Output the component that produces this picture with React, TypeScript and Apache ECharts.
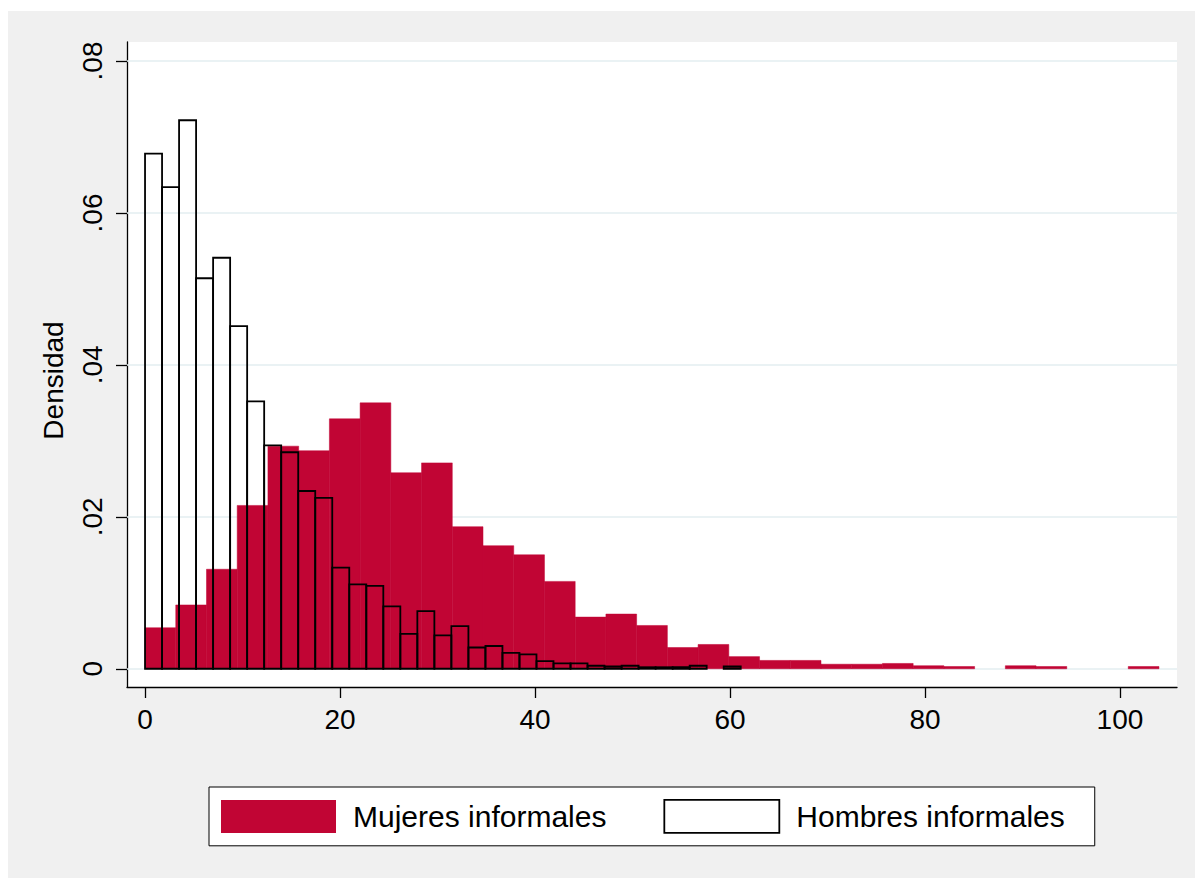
import React, { useEffect, useRef } from 'react';
import * as echarts from 'echarts';

// ---- data ----
const seriesNames = ['Mujeres informales', 'Hombres informales'];

const mujeresBinStart = 0;
const mujeresBinWidth = 104 / 33;
const mujeresDensity = [
  0.0054, 0.0084, 0.0131, 0.0215, 0.0293, 0.0287, 0.0329, 0.0350, 0.0258, 0.0271,
  0.0187, 0.0162, 0.0150, 0.0115, 0.0068, 0.0072, 0.0057, 0.0028, 0.0032, 0.0016,
  0.0011, 0.0011, 0.0006, 0.0006, 0.0007, 0.0004, 0.0003, 0, 0.0004, 0.0003,
  0, 0, 0.0003,
];

const hombresBinStart = 0;
const hombresBinWidth = 61.1 / 35;
const hombresDensity = [
  0.0678, 0.0634, 0.0722, 0.0514, 0.0541, 0.0451, 0.0352, 0.0294, 0.0285, 0.0234,
  0.0225, 0.0133, 0.0111, 0.0109, 0.0082, 0.0046, 0.0076, 0.0044, 0.0056, 0.0028,
  0.0030, 0.0021, 0.0019, 0.0010, 0.0007, 0.0007, 0.0004, 0.0003, 0.0004, 0.0002,
  0.0002, 0.0002, 0.0004, 0, 0.0003,
];

const xTicks = [0, 20, 40, 60, 80, 100];
const yTicks = [0, 0.02, 0.04, 0.06, 0.08];
const yTickLabels = ['0', '.02', '.04', '.06', '.08'];
const yTitle = 'Densidad';

const RED = '#c10534';
const FONT = 'Liberation Sans, Arial, sans-serif';

function toBins(start: number, width: number, dens: number[]) {
  return dens.map((d, i) => [start + i * width, start + (i + 1) * width, d]);
}

export default function App() {
  const ref = useRef<HTMLDivElement>(null);

  useEffect(() => {
    if (!ref.current) return;
    const chart = echarts.init(ref.current, undefined, { renderer: 'svg' });

    const makeRender = (fill: string, stroke: string | null, lw: number) =>
      (params: any, api: any) => {
        const x0 = api.value(0);
        const x1 = api.value(1);
        const h = api.value(2);
        if (!h) return null;
        const p0 = api.coord([x0, h]);
        const p1 = api.coord([x1, 0]);
        return {
          type: 'rect',
          shape: { x: p0[0], y: p0[1], width: p1[0] - p0[0], height: p1[1] - p0[1] },
          style: stroke
            ? { fill, stroke, lineWidth: lw }
            : { fill, stroke: fill, lineWidth: 0.5 },
        };
      };

    chart.setOption({
      animation: false,
      backgroundColor: '#f0f0f0',
      grid: {
        left: 119,
        top: 31,
        right: 18,
        bottom: 191,
        show: true,
        backgroundColor: '#ffffff',
        borderWidth: 0,
      },
      xAxis: {
        type: 'value',
        min: -1.85,
        max: 105.85,
        splitLine: { show: false },
        axisLine: { show: true, onZero: false, lineStyle: { color: '#000', width: 1.3 } },
        axisTick: {
          show: true,
          length: 11,
          inside: false,
          customValues: xTicks,
          lineStyle: { color: '#000', width: 1.3 },
        },
        axisLabel: {
          customValues: xTicks,
          color: '#000',
          fontSize: 28,
          fontFamily: FONT,
          margin: 18,
          formatter: (v: number) => String(v),
        },
      },
      yAxis: {
        type: 'value',
        min: -0.0024,
        max: 0.0825,
        name: yTitle,
        nameLocation: 'middle',
        nameRotate: 90,
        nameGap: 60,
        nameTextStyle: {
          color: '#000',
          fontSize: 28,
          fontFamily: FONT,
          padding: [0, 32, 0, 0],
        },
        splitLine: { show: false },
        axisLine: { show: true, onZero: false, lineStyle: { color: '#000', width: 1.3 } },
        axisTick: {
          show: true,
          length: 11,
          inside: false,
          customValues: yTicks,
          lineStyle: { color: '#000', width: 1.3 },
        },
        axisLabel: {
          customValues: yTicks,
          rotate: 90,
          color: '#000',
          fontSize: 28,
          fontFamily: FONT,
          margin: 21,
          formatter: (v: number) => {
            const i = yTicks.findIndex((t) => Math.abs(t - v) < 1e-9);
            return i >= 0 ? yTickLabels[i] : '';
          },
        },
      },
      legend: {
        left: 201,
        top: 776,
        orient: 'horizontal',
        padding: [12, 30, 12, 12],
        backgroundColor: '#ffffff',
        borderColor: '#000',
        borderWidth: 1,
        borderRadius: 0,
        itemWidth: 115,
        itemHeight: 33,
        itemGap: 57,
        selectedMode: false,
        textStyle: {
          color: '#000',
          fontSize: 30,
          fontFamily: FONT,
          padding: [0, 0, 0, 12],
        },
        data: [
          { name: seriesNames[0], icon: 'rect', itemStyle: { color: RED, borderWidth: 0 } },
          {
            name: seriesNames[1],
            icon: 'rect',
            itemStyle: { color: '#ffffff', borderColor: '#000', borderWidth: 1.8 },
          },
        ],
      },
      series: [
        {
          name: seriesNames[0],
          type: 'custom',
          z: 2,
          itemStyle: { color: RED },
          encode: { x: [0, 1], y: 2 },
          renderItem: makeRender(RED, null, 0),
          data: toBins(mujeresBinStart, mujeresBinWidth, mujeresDensity),
          markLine: {
            silent: true,
            z: 1,
            symbol: 'none',
            animation: false,
            label: { show: false },
            lineStyle: { color: '#e3eef1', width: 1.5, type: 'solid' },
            data: yTicks.map((v) => ({ yAxis: v })),
          },
        },
        {
          name: seriesNames[1],
          type: 'custom',
          z: 3,
          itemStyle: { color: '#ffffff', borderColor: '#000' },
          encode: { x: [0, 1], y: 2 },
          renderItem: makeRender('none', '#000', 1.8),
          data: toBins(hombresBinStart, hombresBinWidth, hombresDensity),
        },
      ],
    });

    return () => chart.dispose();
  }, []);

  return (
    <div
      ref={ref}
      style={{
        position: 'fixed',
        left: 8,
        top: 11,
        width: 1187,
        height: 867,
        background: '#f0f0f0',
      }}
    />
  );
}
